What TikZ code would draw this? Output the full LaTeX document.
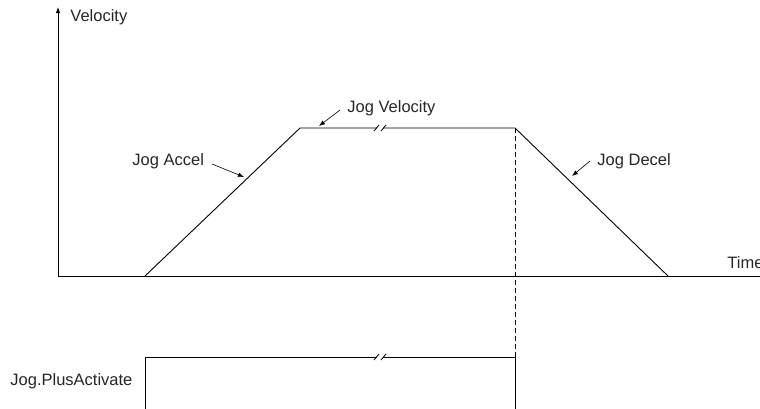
\documentclass[tikz,border=0pt]{standalone}
\usepackage{fontspec}
\setmainfont{Liberation Sans}
\usetikzlibrary{arrows.meta}
\begin{document}
\begin{tikzpicture}[x=1pt,y=-1pt,line width=0.9pt,
  lbl/.style={font=\fontsize{16.5}{19}\selectfont,text=black!85,inner sep=0pt,anchor=base west},
  callout/.style={line width=0.6pt,-{Latex[length=6pt,width=4.5pt]}},
  brk/.style={line width=0.8pt},
  axisarrow/.style={-{Latex[length=6pt,width=4.5pt]}}]
\useasboundingbox (0,0) rectangle (760,408);
% axes
\coordinate (O) at (58,276);
\coordinate (Ytop) at (58,7);
\coordinate (Xend) at (770,276);
\draw[axisarrow] (O) -- (Ytop);
\draw (O) -- (Xend);
% velocity profile
\coordinate (A) at (145,276);
\coordinate (B) at (300,128);
\coordinate (C) at (515,128);
\coordinate (D) at (668,276);
\coordinate (Bl) at (377,128);
\coordinate (Br) at (383,128);
\draw (A) -- (B) -- (Bl);
\draw (Br) -- (C) -- (D);
\draw[brk] (374,131) -- (379,125);
\draw[brk] (381,131) -- (386,125);
% dashed marker
\coordinate (Sr) at (515,357);
\draw[dashed,dash pattern=on 5pt off 3pt,line width=0.7pt] (C) -- (Sr);
% activate signal
\coordinate (Sa) at (145,412);
\coordinate (Sl) at (145,357);
\coordinate (Sbl) at (377,357);
\coordinate (Sbr) at (383,357);
\coordinate (Sb) at (515,412);
\draw (Sa) -- (Sl) -- (Sbl);
\draw (Sbr) -- (Sr) -- (Sb);
\draw[brk] (374,360) -- (379,354);
\draw[brk] (381,360) -- (386,354);
% labels
\node[lbl] (vel) at (70,21) {Velocity};
\node[lbl] (time) at (727,268) {Time};
\node[lbl] (jv) at (347,112) {Jog Velocity};
\node[lbl] (ja) at (132,165) {Jog Accel};
\node[lbl] (jd) at (597,165) {Jog Decel};
\node[lbl] (jpa) at (10,385) {Jog.PlusActivate};
% callouts
\coordinate (jvs) at (340,110);
\coordinate (jvt) at (319,126);
\coordinate (jas) at (212,164);
\coordinate (jat) at (244,177);
\coordinate (jds) at (590,161);
\coordinate (jdt) at (572,176);
\draw[callout] (jvs) -- (jvt);
\draw[callout] (jas) -- (jat);
\draw[callout] (jds) -- (jdt);
\end{tikzpicture}
\end{document}
